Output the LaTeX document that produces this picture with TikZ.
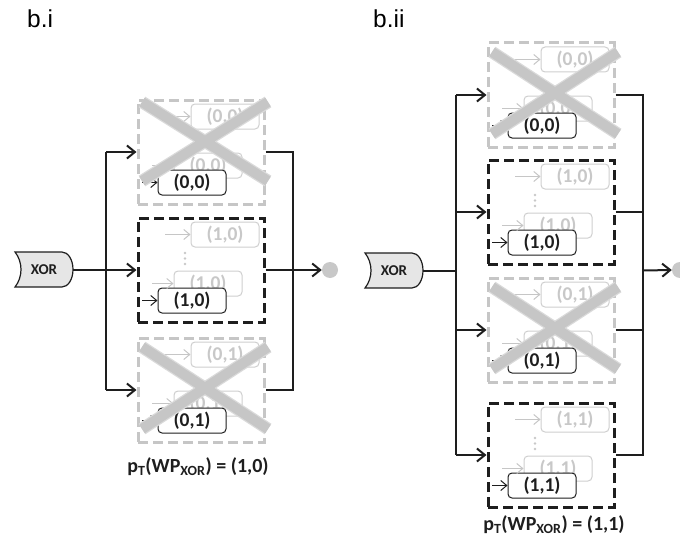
\documentclass[tikz,border=0pt]{standalone}
\usepackage{fontspec}
\setmainfont{Carlito}
\newfontfamily\headfont{Liberation Sans}
\usetikzlibrary{arrows.meta}

\definecolor{ink}{HTML}{1E1E1E}
\definecolor{fadeline}{HTML}{C6C6C6}
\definecolor{fadebox}{HTML}{CFCFCF}
\definecolor{fadetext}{HTML}{C8C8C8}
\definecolor{xorfill}{HTML}{E6E6E6}
\definecolor{xedgecol}{HTML}{DADADA}
\definecolor{xcorecol}{HTML}{C6C6C6}
\definecolor{sinkfill}{HTML}{C8C8C8}

\tikzset{
  wire/.style={draw=ink, line width=2pt},
  branch/.style={wire, -{Straight Barb[length=8pt,width=13pt]}},
  livebox/.style={draw=ink, line width=3pt, dash pattern=on 10pt off 5pt,
    minimum width=126pt, minimum height=104pt, inner sep=0pt},
  deadbox/.style={livebox, draw=fadeline},
  chip/.style={rounded corners=4pt, line width=1pt, fill=white,
    minimum width=68pt, minimum height=25pt, inner sep=0pt,
    font=\fontsize{19.5}{21}\selectfont\bfseries},
  ghostchip/.style={chip, draw=fadebox, text=fadetext},
  mainchip/.style={chip, draw=ink, text=ink},
  ghostarrow/.style={draw=fadeline, line width=1pt, -{Straight Barb[length=6pt,width=10pt]}},
  mainarrow/.style={draw=ink, line width=1pt, -{Straight Barb[length=6pt,width=10pt]}},
  xedge/.style={draw=xedgecol, line width=12.5pt, line cap=butt},
  xcore/.style={draw=xcorecol, line width=10pt, line cap=butt},
  sink/.style={circle, fill=sinkfill, minimum size=16pt, inner sep=0pt},
  headlabel/.style={font=\headfont\fontsize{24.5}{28}\selectfont, inner sep=0pt},
  resultlabel/.style={font=\fontsize{20}{23}\selectfont\bfseries, text=ink, inner sep=0pt},
  xortext/.style={font=\fontsize{15}{17}\selectfont\bfseries, text=ink, inner sep=0pt}
}

% a dashed group holding two faded runs and the current one in front
\newcommand\taskstack[5]{%
  \begin{scope}[shift={(#2,#3)}]
    \node[#5] (#1) at (63,52) {};
    \node[ghostchip] (#1g1) at (87,16.5) {#4};
    \node[ghostchip] (#1g2) at (70,65.5) {#4};
    \node[mainchip] (#1f) at (54,82.5) {#4};
    \coordinate (#1t1) at (27,16.5);
    \coordinate (#1t2) at (14,65.5);
    \coordinate (#1t3) at (4,82.5);
    \draw[ghostarrow] (#1t1) -- (#1g1.west);
    \draw[ghostarrow] (#1t2) -- (#1g2.west);
    \draw[mainarrow] (#1t3) -- (#1f.west);
  \end{scope}}

% vertical ellipsis between the faded runs
\newcommand\stackdots[2]{%
  \begin{scope}[shift={(#1,#2)}]
    \foreach \d in {35,40.5,46} \fill[fadetext] (47,\d) circle[radius=1.3pt];
  \end{scope}}

% big grey cross over a discarded group
\newcommand\crossbox[3]{%
  \path ([shift={(-59,#2)}]#1.center) coordinate (#1xa)
        ([shift={(67,#3)}]#1.center)  coordinate (#1xb)
        ([shift={(-59,#3)}]#1.center) coordinate (#1xc)
        ([shift={(67,#2)}]#1.center)  coordinate (#1xd);
  \draw[xedge] (#1xa) -- (#1xb) (#1xc) -- (#1xd);
  \draw[xcore] (#1xa) -- (#1xb) (#1xc) -- (#1xd);}

% XOR gateway: concave left side, rounded right end
\newcommand\xorgate[3]{%
  \begin{scope}[shift={(#2,#3)}]
    \path[draw=ink, line width=1.2pt, fill=xorfill]
      (0,0) -- (47,0) .. controls (53.1,0) and (58,7.8) .. (58,17.5)
      .. controls (58,27.2) and (53.1,35) .. (47,35) -- (0,35)
      .. controls (8,25) and (8,10) .. (0,0) -- cycle;
    \node[xortext] (#1) at (29,17.5) {XOR};
    \coordinate (#1out) at (58,17.5);
  \end{scope}}

\begin{document}
\begin{tikzpicture}[x=1pt, y=-1pt]
  \useasboundingbox (0,0) rectangle (680,543);
  \clip (0,0) rectangle (680,543);

  % ---------------- panel b.i ----------------
  \node[headlabel, anchor=base west] (titleA) at (27,28) {b.i};
  \xorgate{xorA}{15}{252}

  \taskstack{sA1}{138}{100}{(0,0)}{deadbox}
  \taskstack{sA2}{138}{218}{(1,0)}{livebox}
  \stackdots{138}{218}
  \taskstack{sA3}{138}{338}{(0,1)}{deadbox}

  \coordinate (jA) at (106,269.5);
  \coordinate (kA) at (293,269.5);
  \node[sink] (endA) at (330,270) {};

  \draw[wire] (xorAout) -- (jA);
  \draw[wire] (jA |- sA1.west) -- (jA |- sA3.west);
  \foreach \b in {sA1,sA2,sA3} \draw[branch] (jA |- \b.west) -- (\b.west);
  \draw[wire] (sA1.east) -- (kA |- sA1.east) -- (kA |- sA3.east) -- (sA3.east);
  \draw[branch] (sA2.east) -- (endA.west);

  \crossbox{sA1}{-50}{29}
  \crossbox{sA3}{-43}{39}

  \node[resultlabel, anchor=base] (resA) at (198,472)
    {p\textsubscript{T}(WP\textsubscript{XOR}) = (1,0)};

  % ---------------- panel b.ii ----------------
  \node[headlabel, anchor=base west] (titleB) at (373,28) {b.ii};
  \xorgate{xorB}{365}{253}

  \taskstack{sB1}{488}{43}{(0,0)}{deadbox}
  \taskstack{sB2}{488}{160}{(1,0)}{livebox}
  \stackdots{488}{160}
  \taskstack{sB3}{488}{278}{(0,1)}{deadbox}
  \taskstack{sB4}{488}{403}{(1,1)}{livebox}
  \stackdots{488}{403}

  \coordinate (jB) at (456,270.5);
  \coordinate (kB) at (643,270.5);
  \node[sink] (endB) at (680,270) {};

  \draw[wire] (xorBout) -- (jB);
  \draw[wire] (jB |- sB1.west) -- (jB |- sB4.west);
  \foreach \b in {sB1,sB2,sB3,sB4} \draw[branch] (jB |- \b.west) -- (\b.west);
  \draw[wire] (sB1.east) -- (kB |- sB1.east) -- (kB |- sB4.east) -- (sB4.east);
  \draw[wire] (sB2.east) -- (kB |- sB2.east);
  \draw[wire] (sB3.east) -- (kB |- sB3.east);
  \draw[branch] (kB) -- (endB.west);

  \crossbox{sB1}{-43}{39}
  \crossbox{sB3}{-43}{39}

  \node[resultlabel, anchor=base] (resB) at (554,530)
    {p\textsubscript{T}(WP\textsubscript{XOR}) = (1,1)};
\end{tikzpicture}
\end{document}
